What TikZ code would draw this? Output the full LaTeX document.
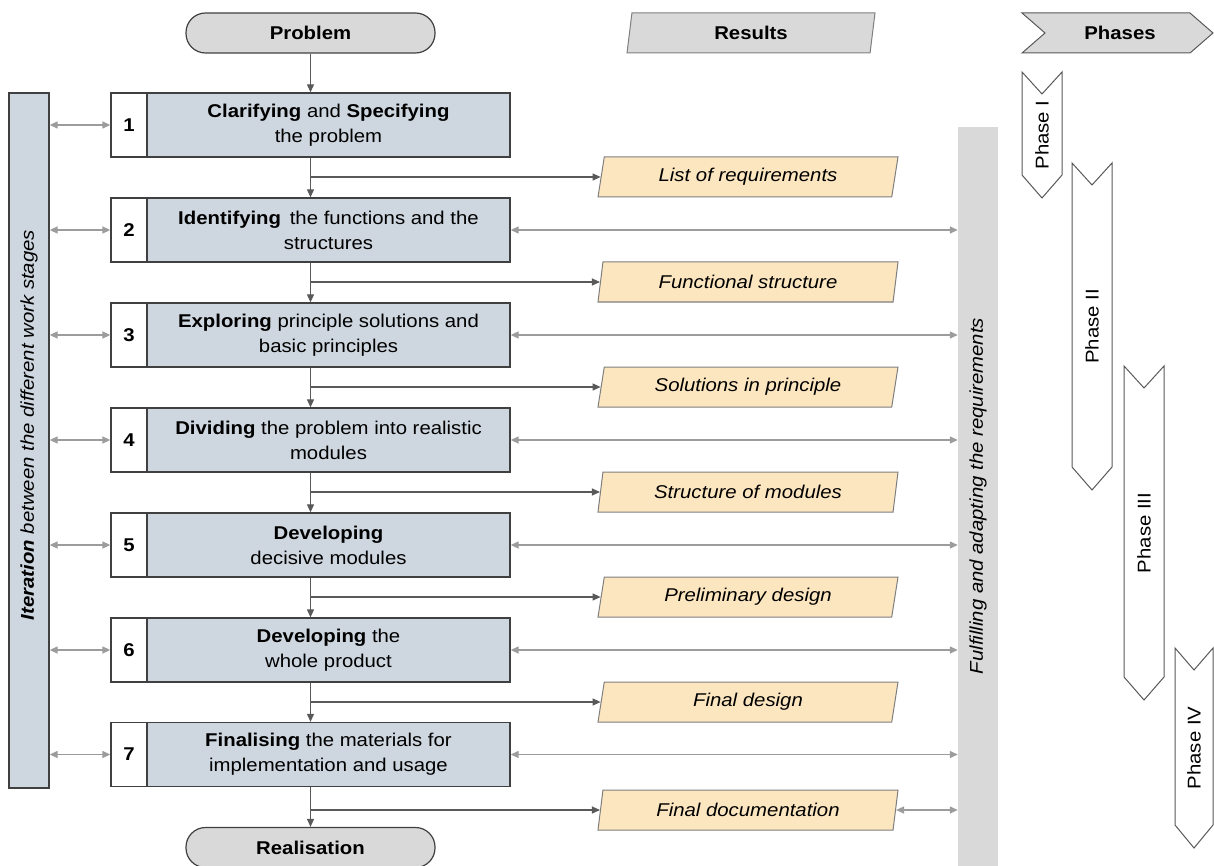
\documentclass[tikz,border=0pt]{standalone}
\usepackage{fontspec}
\setmainfont{Liberation Sans}[FakeStretch=1.1]
\usetikzlibrary{arrows.meta,shapes.geometric}

\definecolor{termfill}{HTML}{D9D9D9}
\definecolor{stagefill}{HTML}{CED6DF}
\definecolor{resfill}{HTML}{FCE6C0}
\definecolor{edgec}{HTML}{404040}
\definecolor{softedge}{HTML}{7F7F7F}
\definecolor{flowc}{HTML}{595959}
\definecolor{linkc}{HTML}{9C9C9C}
\definecolor{barfill}{HTML}{D9D9D9}

\tikzset{
  term/.style={draw=edgec, fill=termfill, line width=1.2pt, rectangle,
    rounded corners=19.5pt, minimum width=249pt, minimum height=40pt, inner sep=0pt},
  stagebox/.style={draw=edgec, fill=stagefill, line width=1.3pt,
    minimum width=363pt, minimum height=64pt, inner sep=0pt, align=center},
  numcell/.style={draw=edgec, fill=white, line width=1.3pt,
    minimum width=36pt, minimum height=64pt, inner sep=0pt},
  result/.style={shape=trapezium, trapezium left angle=70, trapezium right angle=110,
    trapezium stretches body, draw=softedge, fill=resfill, line width=1pt,
    minimum width=300pt, minimum height=40pt, inner sep=0pt},
  sidebar/.style={minimum width=40pt, inner sep=0pt},
  phasebox/.style={draw=flowc, fill=white, line width=1pt, line join=miter},
  flow/.style={draw=flowc, line width=1.1pt, -{Triangle[length=8pt,width=7pt]}},
  link/.style={draw=linkc, line width=1.3pt,
    {Triangle[length=8pt,width=7pt]}-{Triangle[length=8pt,width=7pt]}},
}

\begin{document}
\begin{tikzpicture}[x=1pt, y=-1pt, font=\fontsize{18.5}{25}\selectfont]
\useasboundingbox (0,0) rectangle (1214,866);

% side bars
\node[sidebar, draw=edgec, fill=stagefill, line width=1.3pt, minimum height=695pt] (iter) at (29,440.5) {};
\node[rotate=90] (itertxt) at (29,425) {\textbf{\textit{Iteration}} \textit{between the different work stages}};
\node[sidebar, fill=barfill, minimum height=739pt] (req) at (978,496.5) {};
\node[rotate=90] (reqtxt) at (978,496) {\textit{Fulfilling and adapting the requirements}};

% start and end
\node[term] (prob) at (310.5,33) {\textbf{Problem}};
\node[term] (real) at (310.5,847.5) {\textbf{Realisation}};

% column headers
\node[result, fill=termfill, minimum width=248pt] (reshead) at (751,33) {\textbf{Results}};
\draw[phasebox, fill=termfill] (1022,13) -- (1190,13) -- (1213,33) -- (1190,53) -- (1022,53) -- (1045,33) -- cycle;
\node (phhead) at (1120,33) {\textbf{Phases}};

% work stages
\node[stagebox] (s1) at (328.5,125) {\textbf{Clarifying} and \textbf{Specifying}\\the problem};
\node[stagebox] (s2) at (328.5,230) {\textbf{Identifying}\, the functions and the\\structures};
\node[stagebox] (s3) at (328.5,335) {\textbf{Exploring} principle solutions and\\basic principles};
\node[stagebox] (s4) at (328.5,440) {\textbf{Dividing} the problem into realistic\\modules};
\node[stagebox] (s5) at (328.5,545) {\textbf{Developing}\\decisive modules};
\node[stagebox] (s6) at (328.5,650) {\textbf{Developing} the\\whole product};
\node[stagebox] (s7) at (328.5,754.5) {\textbf{Finalising} the materials for\\implementation and usage};

\foreach \k/\yy in {1/125,2/230,3/335,4/440,5/545,6/650,7/754.5}
  \node[numcell] (n\k) at (129,\yy) {\textbf{\k}};

% results
\node[result] (r1) at (748,177) {\textit{List of requirements}};
\node[result] (r2) at (748,282) {\textit{Functional structure}};
\node[result] (r3) at (748,387) {\textit{Solutions in principle}};
\node[result] (r4) at (748,492) {\textit{Structure of modules}};
\node[result] (r5) at (748,597) {\textit{Preliminary design}};
\node[result] (r6) at (748,702) {\textit{Final design}};
\node[result] (r7) at (748,810) {\textit{Final documentation}};

% phases
\foreach \xa/\xb/\yt/\ye/\lab/\nm in {1022/1062/72/175/I/p1, 1072/1112/163/467/II/p2,
    1124/1164/366/677/III/p3, 1175/1213/648/825/IV/p4}{
  \draw[phasebox] (\xa,\yt) -- ({(\xa+\xb)/2},{\yt+22}) -- (\xb,\yt) -- (\xb,\ye)
    -- ({(\xa+\xb)/2},{\ye+23}) -- (\xa,\ye) -- cycle;
  \node[rotate=90] (\nm) at ({(\xa+\xb)/2},{(\yt+\ye+23)/2}) {Phase \lab};
}

% main flow
\draw[flow] (prob.south) -- (s1.north -| prob);
\foreach \a/\b in {1/2,2/3,3/4,4/5,5/6,6/7}
  \draw[flow] (s\a.south -| prob) -- (s\b.north -| prob);
\draw[flow] (s7.south -| prob) -- (real.north);
\foreach \k in {1,...,7}
  \draw[flow] (prob |- r\k.left side) -- (r\k.left side);

% iteration links
\foreach \k in {1,...,7}
  \draw[link] (iter.east |- n\k) -- (n\k.west);

% requirement links
\foreach \k in {2,...,7}
  \draw[link] (s\k.east) -- (req.west |- s\k);
\draw[link] (r7.right side) -- (req.west |- r7);
\end{tikzpicture}
\end{document}
